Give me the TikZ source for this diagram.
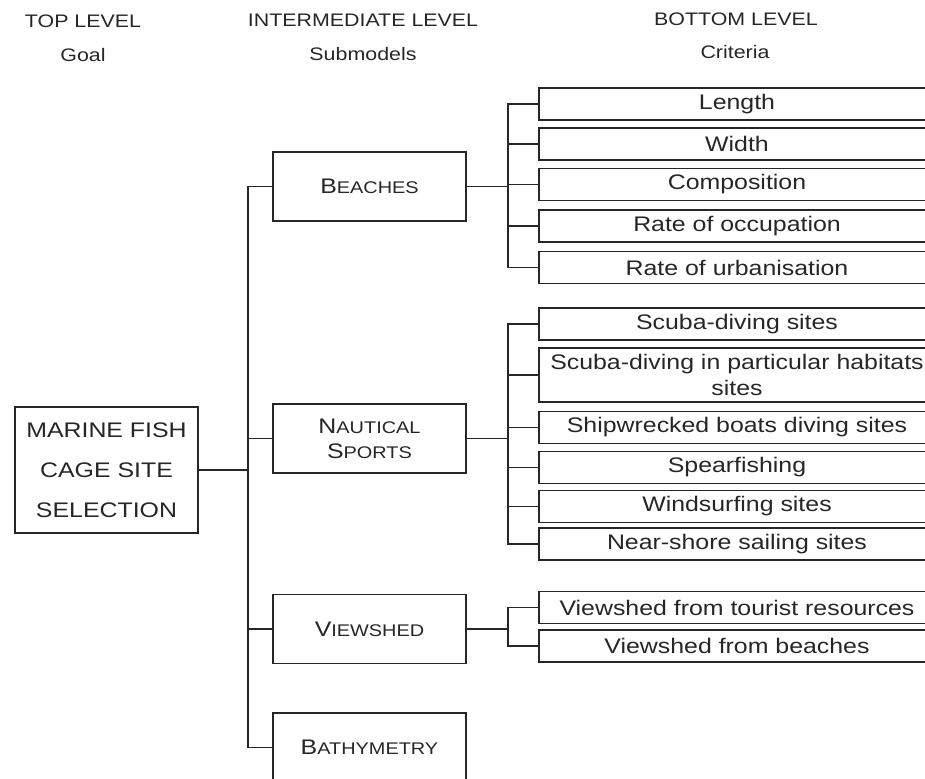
\documentclass[tikz,border=0pt]{standalone}
\usepackage{fontspec}
\setmainfont[FakeStretch=1.18]{Liberation Sans}
\newcommand{\fsc}[2]{#1{\fontsize{12}{14}\selectfont #2}}
\begin{document}
\begin{tikzpicture}[line width=.9pt, color=black!85, line join=miter,
	lvl/.style={font=\fontsize{12.9}{15}\selectfont},
	goalbox/.style={draw, align=center, inner sep=0pt, minimum width=4.575cm, minimum height=3.15cm, font=\fontsize{15}{28.4}\selectfont},
	modbox/.style={draw, align=center, inner sep=0pt, minimum width=4.825cm, minimum height=1.725cm, font=\fontsize{15}{17.8}\selectfont},
	critbox/.style={draw, align=center, inner sep=0pt, minimum width=9.9cm, minimum height=.8cm, font=\fontsize{15}{18.5}\selectfont}]
		\useasboundingbox (0,0) rectangle (23.125,-19.45);
		\clip (0,0) rectangle (23.125,-19.45);
		% level titles
		\node[lvl] (top) at (2.075,-.525) {TOP LEVEL};
		\node[lvl] (goalt) at (2.075,-1.375) {Goal};
		\node[lvl] (mid) at (9.075,-.5) {INTERMEDIATE LEVEL};
		\node[lvl] (subm) at (9.075,-1.35) {Submodels};
		\node[lvl] (bot) at (18.4,-.475) {BOTTOM LEVEL};
		\node[lvl] (crit) at (18.375,-1.3) {Criteria};
		% goal and submodels
		\node[goalbox] (goal) at (2.6625,-11.75) {MARINE FISH\\CAGE SITE\\SELECTION};
		\node[modbox] (beach) at (9.2375,-4.6625) {\fsc{B}{EACHES}};
		\node[modbox] (naut) at (9.2375,-10.9625) {\fsc{N}{AUTICAL}\\\fsc{S}{PORTS}};
		\node[modbox] (view) at (9.2375,-15.725) {\fsc{V}{IEWSHED}};
		\node[modbox] (bathy) at (9.2375,-18.6875) {\fsc{B}{ATHYMETRY}};
		\coordinate (tk) at (6.2,0);
		\coordinate (st) at (12.7,0);
		% criteria
		\node[critbox] (len) at (18.425,-2.6) {Length};
		\node[critbox] (wid) at (18.425,-3.6) {Width};
		\node[critbox] (comp) at (18.425,-4.6125) {Composition};
		\node[critbox] (occ) at (18.425,-5.65) {Rate of occupation};
		\node[critbox] (urb) at (18.425,-6.6875) {Rate of urbanisation};
		\node[critbox] (scuba) at (18.425,-8.1) {Scuba-diving sites};
		\node[critbox, minimum height=1.35cm] (habit) at (18.425,-9.375) {Scuba-diving in particular habitats\\sites};
		\node[critbox] (wreck) at (18.425,-10.6875) {Shipwrecked boats diving sites};
		\node[critbox] (spear) at (18.425,-11.6875) {Spearfishing};
		\node[critbox] (wind) at (18.425,-12.6625) {Windsurfing sites};
		\node[critbox] (sail) at (18.425,-13.6) {Near-shore sailing sites};
		\node[critbox] (tour) at (18.425,-15.1875) {Viewshed from tourist resources};
		\node[critbox] (beachv) at (18.425,-16.15) {Viewshed from beaches};
		% tree
		\draw (goal.east) -- (goal.east -| tk);
		\draw (beach.west) -- (beach.west -| tk) -- (bathy.west -| tk) -- (bathy.west);
		\foreach \n in {naut,view} \draw (\n.west) -- (\n.west -| tk);
		\draw (len.west) -- (len.west -| st) -- (urb.west -| st) -- (urb.west);
		\draw (scuba.west) -- (scuba.west -| st) -- (sail.west -| st) -- (sail.west);
		\draw (tour.west) -- (tour.west -| st) -- (beachv.west -| st) -- (beachv.west);
		\foreach \n in {wid,comp,occ,habit,wreck,spear,wind} \draw (\n.west) -- (\n.west -| st);
		\foreach \n in {beach,naut,view} \draw (\n.east) -- (\n.east -| st);
\end{tikzpicture}
\end{document}
